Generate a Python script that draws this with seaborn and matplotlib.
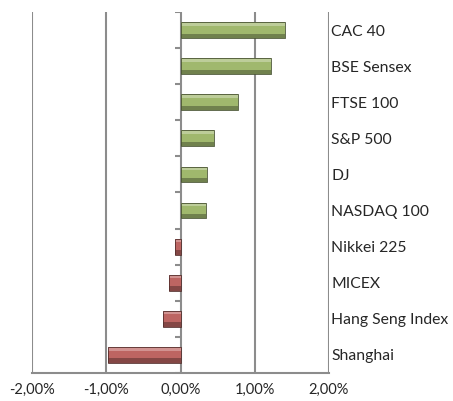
import numpy as np
import pandas as pd
import matplotlib
matplotlib.use("Agg")
import matplotlib.pyplot as plt
import seaborn as sns
from matplotlib.patches import Rectangle

# -------------------- data --------------------
indices = ["CAC 40", "BSE Sensex", "FTSE 100", "S&P 500", "DJ", "NASDAQ 100",
           "Nikkei 225", "MICEX", "Hang Seng Index", "Shanghai"]
changes = [1.41, 1.22, 0.77, 0.45, 0.36, 0.35, -0.07, -0.15, -0.24, -0.97]  # percent
x_ticks = [-2, -1, 0, 1, 2]
# ----------------------------------------------

GREEN = "#a5c461"
RED = "#cc5753"
GRID = "#8c8c8c"

df = pd.DataFrame({"index": indices, "change": changes})
df["sign"] = np.where(df["change"] >= 0, "up", "down")

sns.set_style("white")
plt.rcParams["font.family"] = ["Lato", "DejaVu Sans"]

fig = plt.figure(figsize=(4.53, 4.01), dpi=100)
ax = fig.add_axes([32 / 453, 28 / 401, 297 / 453, 361 / 401])

sns.barplot(data=df, y="index", x="change", hue="sign", order=indices,
            palette={"up": GREEN, "down": RED}, width=0.44, dodge=False,
            legend=False, edgecolor="none", ax=ax, zorder=3)

# bevel look: light top strip, darker bottom strip, dark outline
for bar in ax.patches:
    x0, y0, w, h = bar.get_x(), bar.get_y(), bar.get_width(), bar.get_height()
    if w == 0:
        continue
    base = bar.get_facecolor()[:3]
    light = tuple(min(1, c + (1 - c) * 0.3) for c in base)
    shade = tuple(c * 0.7 for c in base)
    dark = tuple(c * 0.45 for c in base)
    ax.add_patch(Rectangle((x0, y0), w, h * 0.22, color=light, zorder=4, lw=0))
    ax.add_patch(Rectangle((x0, y0 + h * 0.72), w, h * 0.28, color=shade, zorder=4, lw=0))
    ax.add_patch(Rectangle((x0, y0), w, h, fill=False, edgecolor=dark, lw=0.6, zorder=5))

ax.set_xlim(-2, 2)
ax.set_ylim(len(indices) - 0.5, -0.5)
ax.set_xticks(x_ticks)
ax.set_xticklabels([f"{t:.2f}%".replace(".", ",") for t in x_ticks], fontsize=10.5)
ax.tick_params(axis="x", length=4, color=GRID, width=1.5, pad=3, direction="out")

# vertical gridlines
for t in x_ticks:
    ax.axvline(t, color=GRID, lw=1.5, zorder=1)

# small ticks on the category axis at x = 0
ax.hlines(np.arange(len(indices) + 1) - 0.5, -0.07, 0, color=GRID, lw=1.5, zorder=2)

ax.yaxis.tick_right()
ax.tick_params(axis="y", length=0, pad=1.5, labelsize=11.3)
ax.set_xlabel("")
ax.set_ylabel("")
for s in ["top", "left", "right"]:
    ax.spines[s].set_visible(False)
ax.spines["bottom"].set_color(GRID)
ax.spines["bottom"].set_linewidth(1.5)

fig.savefig("out.png", dpi=100)
